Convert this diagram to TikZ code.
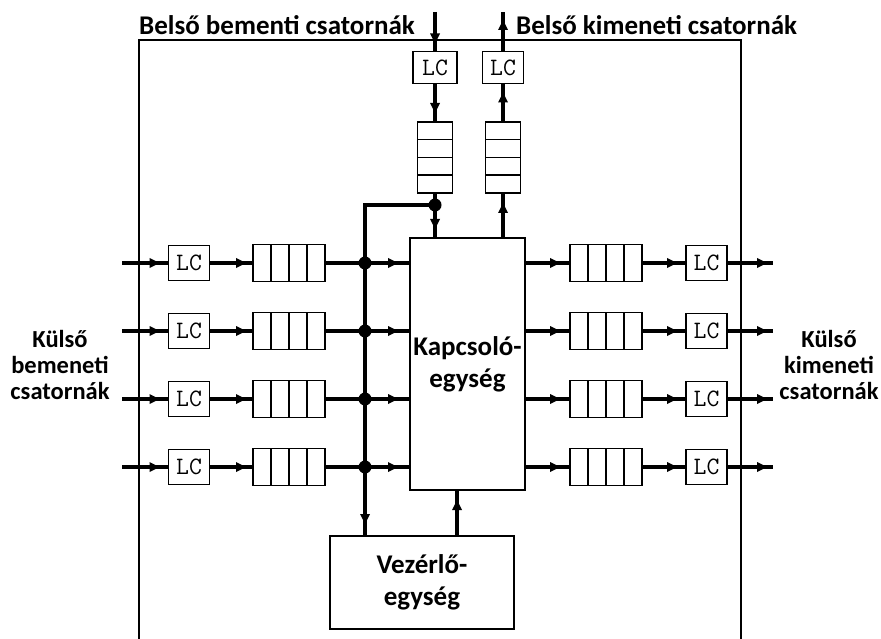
\documentclass[tikz,border=0pt]{standalone}
\usepackage{fontspec}
\setmainfont{Carlito}
\usetikzlibrary{decorations.markings,calc}
\begin{document}
\begin{tikzpicture}[x=1pt,y=-1pt,
  thinline/.style={line width=1.5pt},
  conn/.style={line width=3.2pt, postaction={decorate, decoration={markings,
      mark=at position -#1 with {\fill (-10pt,-5pt) -- (0pt,0pt) -- (-10pt,5pt) -- cycle;}}}},
  conn/.default=8pt,
  lcbox/.style={draw, thinline, minimum width=41pt, minimum height=35pt, inner sep=0pt, outer sep=0pt, font=\ttfamily\fontsize{25}{25}\selectfont},
  hq/.style={draw, thinline, minimum width=72pt, minimum height=37pt, inner sep=0pt, outer sep=0pt},
  vq/.style={draw, thinline, minimum width=35pt, minimum height=71pt, inner sep=0pt, outer sep=0pt},
  bigbox/.style={draw, thinline, inner sep=0pt, outer sep=0pt, align=center, font=\bfseries\fontsize{27}{32}\selectfont},
  dot/.style={circle, fill, inner sep=0pt, minimum size=13pt},
  lbl/.style={font=\bfseries\fontsize{27}{28}\selectfont, inner sep=0pt},
  side/.style={font=\bfseries\fontsize{24.5}{26}\selectfont, align=center, inner sep=0pt}
]
\useasboundingbox (0,0) rectangle (881,639);
% frame
\draw[thinline] (139,639) -- (139,40) -- (741,40) -- (741,639);

% labels
\node[lbl, anchor=west] (tl1) at (139,25) {Belső bementi csatornák};
\node[lbl, anchor=west] (tl2) at (516,25) {Belső kimeneti csatornák};
\node[side] (sl) at (60,365) {Külső\\bemeneti\\csatornák};
\node[side] (sr) at (829,365) {Külső\\kimeneti\\csatornák};

% central boxes
\node[bigbox, minimum width=115pt, minimum height=252pt] (K) at (467.5,364) {\raisebox{-3pt}{Kapcsoló-}\\\raisebox{-3pt}{egység}};
\node[bigbox, minimum width=184pt, minimum height=93pt] (V) at (422,582.5) {Vezérlő-\\egység};

% top channels
\coordinate (tin) at (435,12);
\node[lcbox, minimum width=44pt, minimum height=32pt] (lcTin) at (435,67.5) {LC};
\node[vq] (qTin) at (435,157.5) {};
\node[dot] (d0) at (435,205) {};
\coordinate (tout) at (503,12);
\node[lcbox, minimum width=41pt, minimum height=32pt] (lcTout) at (503,67.5) {LC};
\node[vq] (qTout) at (503,157.5) {};
\foreach \q in {qTin,qTout}
  \foreach \f in {0.25,0.5,0.75}
    \draw[thinline] ($(\q.north west)!\f!(\q.south west)$) -- ($(\q.north east)!\f!(\q.south east)$);

\draw[conn] (tin) -- (lcTin.north);
\draw[conn=9pt] (lcTin.south) -- (qTin.north);
\draw[conn=9pt] (qTin.south) -- (qTin.south |- K.north);
\draw[conn=10pt] (qTout.south |- K.north) -- (qTout.south);
\draw[conn=9pt] (qTout.north) -- (lcTout.south);
\draw[conn] (lcTout.north) -- (tout);

% rows
\foreach \i/\y in {1/263,2/331,3/399,4/467}{
  \coordinate (in\i) at (122,\y);
  \node[lcbox] (lcL\i) at (189,\y) {LC};
  \node[hq] (qL\i) at (289,\y) {};
  \node[dot] (b\i) at (365,\y) {};
  \node[hq] (qR\i) at (606,\y) {};
  \node[lcbox] (lcR\i) at (706.5,\y) {LC};
  \coordinate (out\i) at (773,\y);
  \foreach \f in {0.25,0.5,0.75}{
    \draw[thinline] ($(qL\i.north west)!\f!(qL\i.north east)$) -- ($(qL\i.south west)!\f!(qL\i.south east)$);
    \draw[thinline] ($(qR\i.north west)!\f!(qR\i.north east)$) -- ($(qR\i.south west)!\f!(qR\i.south east)$);
  }
  \draw[conn=9pt] (in\i) -- (lcL\i.west);
  \draw[conn=7pt] (lcL\i.east) -- (qL\i.west);
  \draw[conn=12pt] (qL\i.east) -- (b\i.center -| K.west);
  \draw[conn=10pt] (K.east |- b\i.center) -- (qR\i.west);
  \draw[conn=9pt] (qR\i.east) -- (lcR\i.west);
  \draw[conn=6pt] (lcR\i.east) -- (out\i);
}

% bus
\draw[conn=12pt] (d0.center) -- (d0.center -| b1.center) -- (b1.center |- V.north);
% control to switch
\coordinate (vk) at (457,0);
\draw[conn=10pt] (vk |- V.north) -- (vk |- K.south);
\end{tikzpicture}
\end{document}
